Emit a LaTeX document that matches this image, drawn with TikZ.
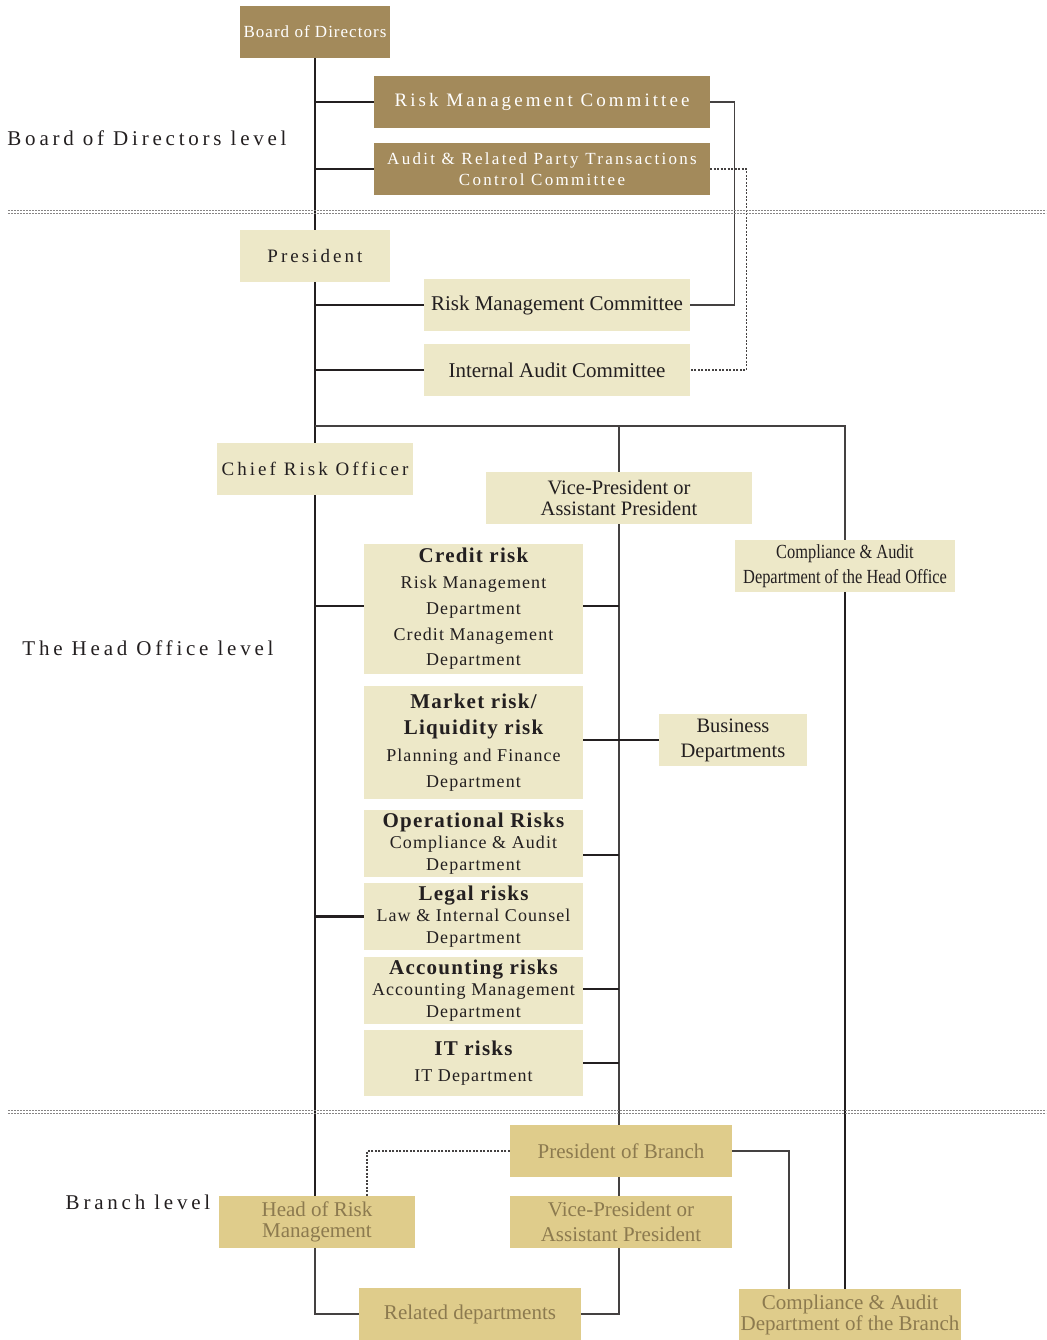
\documentclass[tikz,border=0pt]{standalone}
\usepackage{fontspec}
\setmainfont{Liberation Serif}
\newfontfamily\spcL[LetterSpace=18]{Liberation Serif}
\newfontfamily\spcT[LetterSpace=16]{Liberation Serif}
\newfontfamily\spcS[LetterSpace=6]{Liberation Serif}
\newfontfamily\spcM[LetterSpace=13.5]{Liberation Serif}
\newfontfamily\spcB[LetterSpace=6]{Liberation Serif}
\newfontfamily\cndB[FakeStretch=0.82]{Liberation Serif}
\usetikzlibrary{backgrounds,calc}
\definecolor{dkgold}{HTML}{A38A5B}
\definecolor{cream}{HTML}{EDE8C8}
\definecolor{brgold}{HTML}{DFCC8B}
\definecolor{brtext}{HTML}{8C7A4F}
\definecolor{ink}{HTML}{231F20}
\newcommand{\fsz}[2]{\fontsize{#1}{#2}\selectfont}
\begin{document}
\begin{tikzpicture}[x=1pt,y=-1pt,
  dk/.style={fill=dkgold,text=white,inner sep=0pt,align=center},
  lt/.style={fill=cream,text=ink,inner sep=0pt,align=center},
  brx/.style={fill=brgold,text=brtext,inner sep=0pt,align=center},
  wh/.style 2 args={minimum width=#1pt,minimum height=#2pt},
  lvl/.style={text=ink,inner sep=0pt,font=\spcL\fsz{21}{24}},
  thk/.style={line width=2.3pt,draw=ink},
  thn/.style={line width=1.4pt,draw=ink!85},
  dot/.style={line width=1.1pt,dash pattern=on 2pt off 1.5pt,draw=ink!85},
  sep/.style={line width=1pt,dash pattern=on 2pt off 1pt,draw=ink!55}]
\useasboundingbox (0,0) rectangle (1046,1340);
% separators
\draw[sep] (8,211) -- (1046,211);
\draw[sep] (8,214) -- (1046,214);
\draw[sep] (8,1110) -- (1046,1110);
\draw[sep] (8,1113) -- (1046,1113);
% level labels
\node[lvl] (l1) at (147,138) {Board of Directors level};
\node[lvl] (l2) at (148,648) {The Head Office level};
\node[lvl] (l3) at (138,1202) {Branch level};
% board level
\node[dk,wh={150}{52},font=\spcS\fsz{17}{20}] (bod) at (315,32) {Board of Directors};
\node[dk,wh={336}{52},font=\spcT\fsz{19}{21}] (rmcA) at (542,102) {Risk Management Committee};
\node[dk,wh={336}{52},font=\spcM\fsz{17}{21}] (arpt) at (542,169) {Audit \& Related Party Transactions\\Control Committee};
% president level
\node[lt,wh={150}{52},font=\spcT\fsz{19}{21}] (pres) at (315,256) {President};
\node[lt,wh={266}{52},font=\fsz{21}{23}] (rmcB) at (557,305) {Risk Management Committee};
\node[lt,wh={266}{52},font=\fsz{21}{23}] (iac) at (557,370) {Internal Audit Committee};
% head office
\coordinate (j) at (315,426);
\node[lt,wh={196}{52},font=\spcT\fsz{19}{21}] (cro) at (315,469) {Chief Risk Officer};
\node[lt,wh={266}{52},font=\fsz{20.5}{21}] (vp) at (619,498) {Vice-President or\\Assistant President};
\node[lt,wh={220}{52},font=\cndB\fsz{20}{25}] (cah) at (845,566) {Compliance \& Audit\\Department of the Head Office};
\node[lt,wh={219}{130},font=\spcB\fsz{18}{25.7}] (cr) at (473.5,609)
  {{\bfseries\fsz{21}{25.7}Credit risk}\\Risk Management\\Department\\Credit Management\\Department};
\node[lt,wh={219}{113},font=\spcB\fsz{18}{26.5}] (mk) at (473.5,742.5)
  {{\bfseries\fsz{21}{26.5}Market risk/}\\{\bfseries\fsz{21}{26.5}Liquidity risk}\\Planning and Finance\\Department};
\node[lt,wh={148}{52},font=\fsz{20.5}{25}] (bus) at (733,740) {Business\\Departments};
\node[lt,wh={219}{67},font=\spcB\fsz{18}{21.5}] (op) at (473.5,843.5)
  {{\bfseries\fsz{21}{21.5}Operational Risks}\\Compliance \& Audit\\Department};
\node[lt,wh={219}{67},font=\spcB\fsz{18}{21.5}] (lg) at (473.5,916.5)
  {{\bfseries\fsz{21}{21.5}Legal risks}\\Law \& Internal Counsel\\Department};
\node[lt,wh={219}{67},font=\spcB\fsz{18}{21.5}] (ac) at (473.5,990.5)
  {{\bfseries\fsz{21}{21.5}Accounting risks}\\Accounting Management\\Department};
\node[lt,wh={219}{66},font=\spcB\fsz{18}{26}] (it) at (473.5,1063)
  {{\bfseries\fsz{21}{26}IT risks}\\IT Department};
% branch level
\node[brx,wh={222}{52},font=\fsz{21}{23}] (pob) at (621,1151) {President of Branch};
\node[brx,wh={196}{52},font=\fsz{21}{21}] (hrm) at (317,1222) {Head of Risk\\Management};
\node[brx,wh={222}{52},font=\fsz{21}{25}] (vpb) at (621,1222) {Vice-President or\\Assistant President};
\node[brx,wh={222}{52},font=\fsz{21}{23}] (rel) at (470,1314) {Related departments};
\node[brx,wh={222}{51},font=\fsz{21}{21}] (cab) at (850,1314.5) {Compliance \& Audit\\Department of the Branch};
% connectors
\begin{pgfonlayer}{background}
\fill[white] (0,0) rectangle (1046,1340);
\draw[thk] (bod.south) -- (bod.south |- hrm.north);
\draw[thk] (bod.south |- rmcA.west) -- (rmcA.west);
\draw[thk] (bod.south |- arpt.west) -- (arpt.west);
\draw[thk] (bod.south |- rmcB.west) -- (rmcB.west);
\draw[thk] (bod.south |- iac.west) -- (iac.west);
\draw[thn] (rmcA.east) -- ++(24,0) |- (rmcB.east);
\draw[dot] (arpt.east) -- ++(36,0) |- (iac.east);
\draw[thn] (j) -| (cah.north);
\draw[thn] (vp.north |- j) -- (vp.north);
\draw[thn] (vp.south) -- (vp.south |- pob.north);
\draw[thk] (cah.south) -- (cah.south |- cab.north);
\draw[thk] (bod.south |- 0,606) -- ($(cr.west)+(0,-3)$);
\draw[thk] (bod.south |- lg.west) -- (lg.west);
\draw[thk] ($(cr.east)+(0,-3)$) -- ++(36,0);
\draw[thk] (bus.west -| mk.east) -- (bus.west);
\draw[thk] ($(op.east)+(0,11.5)$) -- ++(36,0);
\draw[thk] ($(ac.east)+(0,-1.5)$) -- ++(36,0);
\draw[thk] (it.east) -- (it.east -| vp.south);
\draw[dot] (pob.west) -| ($(hrm.north)+(50,0)$);
\draw[thn] (vp.south |- pob.south) -- (vp.south |- vpb.north);
\draw[thn] (vp.south |- vpb.south) |- (rel.east);
\draw[thn] (bod.south |- hrm.south) |- (rel.west);
\draw[thn] (pob.east) -| ($(cab.north)+(-61,0)$);
\end{pgfonlayer}
\end{tikzpicture}
\end{document}
